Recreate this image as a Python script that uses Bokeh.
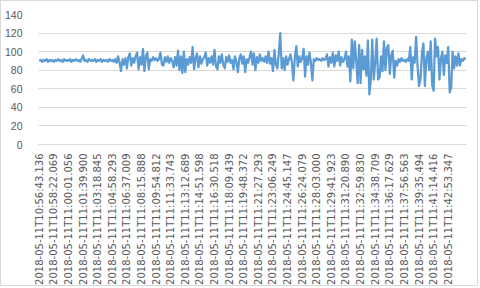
import math
from bokeh.plotting import figure
from bokeh.models import Range1d, FixedTicker
from bokeh.embed import file_html
from bokeh.resources import INLINE

# ---- data ----
values = [
    90, 91, 89, 91, 90, 92, 89, 91, 90, 91,
    89, 91, 90, 92, 90, 91, 89, 92, 90, 91,
    90, 92, 89, 91, 90, 92, 90, 91, 89, 92,
    96, 90, 91, 89, 92, 90, 91, 90, 92, 89,
    91, 90, 92, 89, 91, 90, 91, 89, 92, 90,
    91, 89, 92, 88, 95, 88, 79, 92, 86, 93,
    82, 94, 98, 85, 93, 88, 95, 99, 81, 94,
    86, 103, 79, 95, 99, 81, 92, 90, 94, 91,
    93, 90, 92, 99, 86, 85, 94, 89, 95, 88,
    93, 90, 83, 94, 85, 101, 80, 95, 77, 100,
    78, 92, 86, 94, 88, 105, 81, 93, 98, 83,
    95, 87, 92, 94, 99, 85, 93, 88, 95, 86,
    102, 84, 81, 95, 88, 97, 86, 82, 94, 89,
    96, 88, 91, 81, 95, 89, 78, 93, 97, 87,
    95, 78, 92, 88, 94, 100, 86, 98, 80, 94,
    88, 97, 90, 93, 89, 95, 88, 100, 87, 93,
    79, 102, 86, 82, 98, 120, 82, 93, 80, 95,
    86, 92, 97, 88, 69, 94, 106, 84, 95, 89,
    93, 103, 73, 95, 86, 99, 88, 69, 92, 90,
    93, 91, 92, 90, 93, 91, 92, 97, 84, 94,
    88, 99, 84, 96, 90, 100, 85, 94, 89, 92,
    100, 84, 95, 68, 113, 82, 111, 90, 66, 107,
    66, 102, 81, 95, 74, 112, 54, 70, 113, 70,
    88, 114, 70, 72, 95, 79, 111, 80, 104, 107,
    76, 96, 101, 72, 90, 85, 92, 89, 93, 90,
    91, 89, 92, 90, 105, 70, 94, 88, 116, 85,
    63, 70, 98, 109, 63, 92, 100, 80, 111, 64,
    58, 114, 95, 105, 70, 93, 100, 75, 96, 88,
    105, 56, 61, 100, 82, 95, 85, 98, 85, 92,
    90, 93, 92,
]

time_labels = [
    "2018-05-11T10:56:43.136", "2018-05-11T10:58:22.069", "2018-05-11T11:00:01.056",
    "2018-05-11T11:01:39.900", "2018-05-11T11:03:18.845", "2018-05-11T11:04:58.293",
    "2018-05-11T11:06:37.009", "2018-05-11T11:08:15.888", "2018-05-11T11:09:54.812",
    "2018-05-11T11:11:33.743", "2018-05-11T11:13:12.689", "2018-05-11T11:14:51.598",
    "2018-05-11T11:16:30.518", "2018-05-11T11:18:09.439", "2018-05-11T11:19:48.372",
    "2018-05-11T11:21:27.293", "2018-05-11T11:23:06.249", "2018-05-11T11:24:45.147",
    "2018-05-11T11:26:24.079", "2018-05-11T11:28:03.000", "2018-05-11T11:29:41.923",
    "2018-05-11T11:31:20.890", "2018-05-11T11:32:59.830", "2018-05-11T11:34:38.709",
    "2018-05-11T11:36:17.629", "2018-05-11T11:37:56.563", "2018-05-11T11:39:35.494",
    "2018-05-11T11:41:14.416", "2018-05-11T11:42:53.347",
]
label_step = 10
y_ticks = [0, 20, 40, 60, 80, 100, 120, 140]

# ---- figure ----
n = len(values)
xs = list(range(n))

p = figure(width=478, height=286, output_backend="svg", toolbar_location=None,
           x_range=Range1d(-0.5, n - 0.5), y_range=Range1d(0, 140),
           min_border_left=37, min_border_right=13, min_border_top=13,
           min_border_bottom=142)
p.styles = {"border": "1px solid #D9D9D9"}
p.outline_line_color = None
p.background_fill_color = "white"
p.border_fill_color = "white"

p.line(xs, values, line_color="#5B9BD5", line_width=2.25, line_join="round")

tick_pos = [i * label_step for i in range(len(time_labels))]
p.xaxis.ticker = FixedTicker(ticks=tick_pos)
p.xaxis.major_label_overrides = {t: lab for t, lab in zip(tick_pos, time_labels)}
p.xaxis.major_label_orientation = math.pi / 2
p.xaxis.major_label_text_font = "DejaVu Sans"
p.xaxis.major_label_text_font_size = "10px"
p.xaxis.major_label_text_color = "#595959"
p.xaxis.major_label_standoff = 3
p.xaxis.major_tick_line_color = None
p.xaxis.minor_tick_line_color = None
p.xaxis.axis_line_color = "#D9D9D9"

p.yaxis.ticker = FixedTicker(ticks=y_ticks)
p.yaxis.major_label_text_font = "Liberation Sans"
p.yaxis.major_label_text_font_size = "10.5px"
p.yaxis.major_label_text_color = "#595959"
p.yaxis.major_label_standoff = 10
p.yaxis.major_tick_line_color = None
p.yaxis.minor_tick_line_color = None
p.yaxis.axis_line_color = None

p.xgrid.grid_line_color = None
p.ygrid.grid_line_color = "#D9D9D9"
p.ygrid.ticker = FixedTicker(ticks=y_ticks)

open("out.html", "w").write(file_html(p, INLINE))
